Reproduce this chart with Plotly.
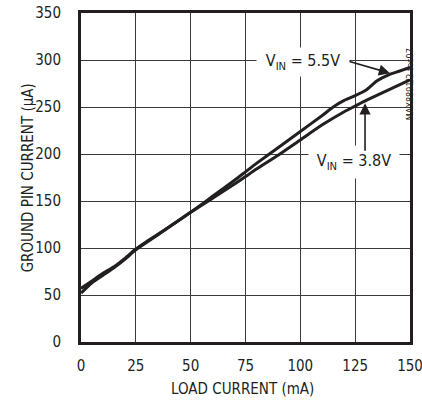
import plotly.graph_objects as go

# Load current (mA)
x_55 = [0, 5, 10, 15, 20, 25, 30, 40, 50, 60, 70, 75, 80, 90, 100, 110, 115, 120, 125, 130, 135, 140, 145, 150]
# Ground pin current (uA), VIN = 5.5V
y_55 = [52, 63, 71, 79, 88, 98, 106, 122, 138, 155, 172, 181, 190, 207, 224, 241, 250, 257, 262, 268, 278, 284, 288, 292]

x_38 = [0, 5, 10, 15, 20, 25, 30, 40, 50, 60, 70, 75, 80, 90, 100, 110, 120, 125, 130, 140, 150]
# Ground pin current (uA), VIN = 3.8V
y_38 = [57, 65, 73, 80, 89, 99, 107, 122, 138, 153, 168, 176, 184, 199, 215, 231, 245, 251, 257, 268, 279]

x_ticks = [0, 25, 50, 75, 100, 125, 150]
y_ticks = [0, 50, 100, 150, 200, 250, 300, 350]

FONT = "DejaVu Sans Condensed, Liberation Sans Narrow, Arial Narrow, sans-serif"
INK = "#231f20"
FS = 15

fig = go.Figure()
fig.add_trace(go.Scatter(x=x_55, y=y_55, mode="lines", line=dict(color=INK, width=3, shape="spline", smoothing=0.6),
                         name="VIN = 5.5V", showlegend=False))
fig.add_trace(go.Scatter(x=x_38, y=y_38, mode="lines", line=dict(color=INK, width=3, shape="spline", smoothing=0.6),
                         name="VIN = 3.8V", showlegend=False))

fig.update_layout(
    width=422, height=402,
    margin=dict(l=81, r=12, t=13, b=60, autoexpand=False),
    paper_bgcolor="white", plot_bgcolor="white",
    font=dict(family=FONT, size=FS, color=INK),
    xaxis=dict(range=[0, 150], tickvals=x_ticks, ticktext=[str(v) for v in x_ticks],
               showgrid=True, gridcolor="#3a3a3a", gridwidth=1, automargin=False,
               showline=True, linecolor=INK, linewidth=3, mirror=True,
               ticks="", ticklabelstandoff=8, zeroline=False, ticklabeloverflow="allow",
               tickfont=dict(family=FONT, size=FS, color=INK)),
    yaxis=dict(range=[0, 350], tickvals=y_ticks, ticktext=[str(v) for v in y_ticks],
               showgrid=True, gridcolor="#3a3a3a", gridwidth=1, automargin=False,
               showline=True, linecolor=INK, linewidth=3, mirror=True,
               ticks="", ticklabelstandoff=14, zeroline=False, ticklabeloverflow="allow",
               tickfont=dict(family=FONT, size=FS, color=INK)),
    annotations=[
        dict(text="LOAD CURRENT (mA)", xref="paper", yref="paper", x=0.49, y=-0.11,
             yanchor="top", showarrow=False, font=dict(family=FONT, size=FS, color=INK)),
        dict(text="GROUND PIN CURRENT (\u00b5A)", xref="paper", yref="paper", x=-0.195, y=0.5,
             textangle=-90, showarrow=False, font=dict(family=FONT, size=FS, color=INK)),
        dict(text="MAX8891/2 toc07", xref="paper", yref="paper", x=1.022, y=0.9,
             textangle=-90, showarrow=False, font=dict(family=FONT, size=9, color=INK)),
        # labels
        dict(text="V<sub>IN</sub> = 5.5V", x=101.3, y=298.0, showarrow=False,
             bgcolor="white", width=90, height=26, font=dict(family=FONT, size=16, color=INK)),
        dict(text="V<sub>IN</sub> = 3.8V", x=124.5, y=191.0, showarrow=False,
             bgcolor="white", width=88, height=30, font=dict(family=FONT, size=16, color=INK)),
        # arrows
        dict(text="", x=140.9, y=286.0, ax=-42, ay=-12, showarrow=True,
             arrowhead=2, arrowsize=1.4, arrowwidth=1.6, arrowcolor=INK),
        dict(text="", x=129.5, y=254.0, ax=0, ay=49, showarrow=True,
             arrowhead=2, arrowsize=1.4, arrowwidth=1.6, arrowcolor=INK),
    ],
)

fig.write_html("out.html", config={"displayModeBar": False},
               post_script="document.body.style.margin='0';document.documentElement.style.overflow='hidden';document.body.style.overflow='hidden';")
